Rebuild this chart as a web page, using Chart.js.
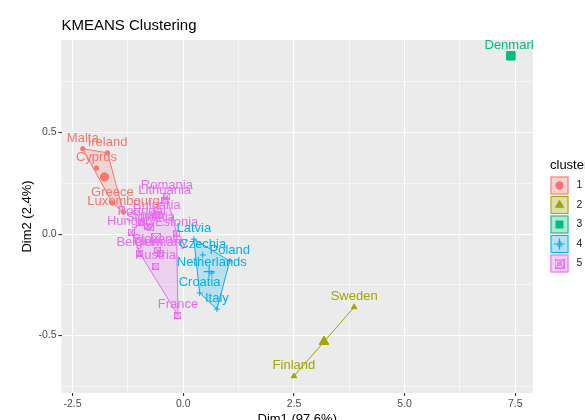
<!DOCTYPE html>
<html>
<head>
<meta charset="utf-8">
<script src="https://cdn.jsdelivr.net/npm/chart.js@4.4.1/dist/chart.umd.min.js"></script>
<style>
  html, body { margin: 0; padding: 0; background: #fff; }
</style>
</head>
<body>
<canvas id="kmeansChart" width="585" height="420"></canvas>
<script>
// countries with their PCA coordinates and kmeans cluster
const countries = ['Romania', 'Lithuania', 'Bulgaria', 'Portugal', 'Slovakia', 'Hungary', 'Estonia', 'Slovenia', 'Germany', 'Belgium', 'Austria', 'France', 'Spain',
  'Latvia', 'Czechia', 'Poland', 'Netherlands', 'Croatia', 'Italy',
  'Denmark',
  'Sweden', 'Finland',
  'Malta', 'Ireland', 'Cyprus', 'Greece', 'Luxembourg'];
const dim1 = [-0.37, -0.42, -0.60, -0.94, -0.74, -1.17, -0.15, -0.58, -0.51, -0.98, -0.62, -0.12, -0.80,
  0.24, 0.44, 1.05, 0.645, 0.37, 0.76,
  7.40,
  3.86, 2.50,
  -2.27, -1.71, -1.96, -1.60, -1.35];
const dim2 = [0.187, 0.163, 0.089, 0.059, 0.030, 0.010, 0.005, -0.079, -0.094, -0.094, -0.158, -0.40, 0.039,
  -0.025, -0.103, -0.133, -0.192, -0.29, -0.37,
  0.878,
  -0.36, -0.70,
  0.42, 0.40, 0.325, 0.153, 0.108];
const clusterOf = [5, 5, 5, 5, 5, 5, 5, 5, 5, 5, 5, 5, 5,
  4, 4, 4, 4, 4, 4,
  3,
  2, 2,
  1, 1, 1, 1, 1];

const clusterIds = [1, 2, 3, 4, 5];
const xTicks = [-2.5, 0, 2.5, 5, 7.5];
const xTickLabels = ['-2.5', '0.0', '2.5', '5.0', '7.5'];
const yTicks = [-0.5, 0, 0.5];
const yTickLabels = ['-0.5', '0.0', '0.5'];

const chartTitle = 'KMEANS Clustering';
const xTitle = 'Dim1 (97.6%)';
const yTitle = 'Dim2 (2.4%)';
const legendTitle = 'cluster';

const clusterColors = ['#F8766D', '#A3A500', '#00BF7D', '#00B0F6', '#E76BF3'];
const FONT = "'Liberation Sans', Arial, sans-serif";
Chart.defaults.font.family = FONT;

function rgba(hex, a) {
  const n = parseInt(hex.slice(1), 16);
  return `rgba(${(n >> 16) & 255}, ${(n >> 8) & 255}, ${n & 255}, ${a})`;
}

// square with an X in it (ggplot shape 7)
function boxX(size, color) {
  const c = document.createElement('canvas');
  c.width = size;
  c.height = size;
  const g = c.getContext('2d');
  g.strokeStyle = color;
  g.lineWidth = 1;
  g.strokeRect(0.5, 0.5, size - 1, size - 1);
  g.beginPath();
  g.moveTo(0.5, 0.5); g.lineTo(size - 0.5, size - 0.5);
  g.moveTo(size - 0.5, 0.5); g.lineTo(0.5, size - 0.5);
  g.stroke();
  return c;
}

function convexHull(pts) {
  const p = pts.slice().sort((a, b) => a.x - b.x || a.y - b.y);
  if (p.length < 3) return p;
  const cross = (o, a, b) => (a.x - o.x) * (b.y - o.y) - (a.y - o.y) * (b.x - o.x);
  const lower = [];
  for (const q of p) {
    while (lower.length >= 2 && cross(lower[lower.length - 2], lower[lower.length - 1], q) <= 0) lower.pop();
    lower.push(q);
  }
  const upper = [];
  for (let i = p.length - 1; i >= 0; i--) {
    const q = p[i];
    while (upper.length >= 2 && cross(upper[upper.length - 2], upper[upper.length - 1], q) <= 0) upper.pop();
    upper.push(q);
  }
  upper.pop();
  lower.pop();
  const h = lower.concat(upper);
  h.push(h[0]);
  return h;
}

function pointStyleFor(k, big) {
  const col = clusterColors[k - 1];
  switch (k) {
    case 1: return { pointStyle: 'circle', radius: big ? 4.2 : 2.2 };
    case 2: return { pointStyle: 'triangle', radius: big ? 5.6 : 3.2 };
    case 3: return { pointStyle: 'rect', radius: big ? 6 : 3.5 };
    case 4: return { pointStyle: 'cross', radius: big ? 5.5 : 3 };
    default: return { pointStyle: boxX(big ? 10 : 7, col), radius: big ? 5 : 3.5 };
  }
}

const datasets = [];
clusterIds.forEach(k => {
  const col = clusterColors[k - 1];
  const pts = [];
  countries.forEach((name, i) => {
    if (clusterOf[i] === k) pts.push({ x: dim1[i], y: dim2[i] });
  });
  const cx = pts.reduce((a, p) => a + p.x, 0) / pts.length;
  const cy = pts.reduce((a, p) => a + p.y, 0) / pts.length;

  const small = pointStyleFor(k, false);
  const big = pointStyleFor(k, true);

  // member points
  datasets.push({
    data: pts,
    order: 2,
    pointStyle: small.pointStyle,
    pointRadius: small.radius,
    backgroundColor: col,
    borderColor: col,
    pointBorderWidth: 1,
    showLine: false
  });
  // cluster centre
  datasets.push({
    data: [{ x: cx, y: cy }],
    order: 1,
    pointStyle: big.pointStyle,
    pointRadius: big.radius,
    backgroundColor: col,
    borderColor: col,
    pointBorderWidth: k === 4 ? 1.2 : 1,
    showLine: false
  });
  // convex hull frame
  if (pts.length > 1) {
    datasets.push({
      data: convexHull(pts),
      order: 3,
      showLine: true,
      pointRadius: 0,
      borderColor: col,
      borderWidth: 1,
      backgroundColor: rgba(col, 0.2),
      fill: pts.length > 2 ? 'shape' : false,
      tension: 0
    });
  }
});

const panelPlugin = {
  id: 'panel',
  beforeDraw(chart) {
    const { ctx, chartArea: a } = chart;
    ctx.save();
    ctx.fillStyle = '#FFFFFF';
    ctx.fillRect(0, 0, chart.width, chart.height);
    ctx.fillStyle = '#EBEBEB';
    ctx.fillRect(a.left, a.top, a.right - a.left, a.bottom - a.top);
    ctx.restore();
  }
};

const textPlugin = {
  id: 'texts',
  afterDatasetsDraw(chart) {
    const { ctx, chartArea: a } = chart;
    const xs = chart.scales.x, ys = chart.scales.y;
    ctx.save();
    ctx.beginPath();
    ctx.rect(a.left, a.top, a.right - a.left, a.bottom - a.top);
    ctx.clip();
    ctx.font = `13px ${FONT}`;
    ctx.textAlign = 'center';
    ctx.textBaseline = 'middle';
    countries.forEach((name, i) => {
      ctx.fillStyle = clusterColors[clusterOf[i] - 1];
      ctx.fillText(name, xs.getPixelForValue(dim1[i]), ys.getPixelForValue(dim2[i]) - 10.5);
    });
    ctx.restore();
  },
  afterDraw(chart) {
    const { ctx, chartArea: a } = chart;
    ctx.save();
    // title
    ctx.fillStyle = '#000000';
    ctx.font = `15px ${FONT}`;
    ctx.textAlign = 'left';
    ctx.textBaseline = 'alphabetic';
    ctx.fillText(chartTitle, a.left, 29.5);
    // axis titles
    ctx.font = `13px ${FONT}`;
    ctx.textAlign = 'center';
    ctx.fillText(xTitle, (a.left + a.right) / 2, 422.5);
    ctx.save();
    ctx.translate(31, (a.top + a.bottom) / 2);
    ctx.rotate(-Math.PI / 2);
    ctx.fillText(yTitle, 0, 0);
    ctx.restore();

    // legend
    const lx = 550.5, ly = 176.5, key = 18, step = 19.5;
    ctx.textAlign = 'left';
    ctx.textBaseline = 'middle';
    ctx.font = `13px ${FONT}`;
    ctx.fillText(legendTitle, 550, 165);
    clusterIds.forEach((k, i) => {
      const col = clusterColors[k - 1];
      const y0 = ly + i * step;
      ctx.fillStyle = '#F2F2F2';
      ctx.fillRect(lx, y0, key, key);
      ctx.fillStyle = rgba(col, 0.25);
      ctx.fillRect(lx, y0, key, key);
      ctx.strokeStyle = col;
      ctx.lineWidth = 1;
      ctx.strokeRect(lx + 0.5, y0 + 0.5, key - 1, key - 1);
      const cx = lx + key / 2, cy = y0 + key / 2;
      ctx.fillStyle = col;
      ctx.font = `10px ${FONT}`;
      ctx.textAlign = 'center';
      ctx.fillText('a', cx, cy);
      const st = pointStyleFor(k, true);
      ctx.fillStyle = col;
      ctx.strokeStyle = col;
      ctx.beginPath();
      if (k === 1) {
        ctx.arc(cx, cy, 4.2, 0, Math.PI * 2);
        ctx.fill();
      } else if (k === 2) {
        const r = 5.6;
        ctx.moveTo(cx, cy - r);
        ctx.lineTo(cx + r * 0.866, cy + r * 0.5);
        ctx.lineTo(cx - r * 0.866, cy + r * 0.5);
        ctx.closePath();
        ctx.fill();
      } else if (k === 3) {
        ctx.rect(cx - 4, cy - 4, 8, 8);
        ctx.fill();
      } else if (k === 4) {
        ctx.lineWidth = 1.2;
        ctx.moveTo(cx - 5.5, cy); ctx.lineTo(cx + 5.5, cy);
        ctx.moveTo(cx, cy - 5.5); ctx.lineTo(cx, cy + 5.5);
        ctx.stroke();
      } else {
        ctx.drawImage(st.pointStyle, cx - 5, cy - 5, 10, 10);
      }
      ctx.fillStyle = '#1A1A1A';
      ctx.font = `10.5px ${FONT}`;
      ctx.textAlign = 'left';
      ctx.fillText(String(k), 576.5, cy);
    });
    ctx.restore();
  }
};

function isMajor(list, v) {
  return list.some(t => Math.abs(t - v) < 1e-9);
}
function tickText(list, labels, v) {
  const i = list.findIndex(t => Math.abs(t - v) < 1e-9);
  return i >= 0 ? labels[i] : '';
}
// minor grid sits halfway between major ticks
function withMinor(list, lo, hi) {
  const step = list[1] - list[0];
  const out = [];
  for (let v = list[0] - step / 2; v <= hi; v += step / 2) {
    if (v >= lo) out.push(Math.round(v * 1000) / 1000);
  }
  return out;
}

const xMin = -2.75, xMax = 7.9, yMin = -0.783, yMax = 0.956;

new Chart(document.getElementById('kmeansChart'), {
  type: 'scatter',
  data: { datasets },
  options: {
    responsive: false,
    animation: false,
    layout: { padding: { left: 0, top: 40, right: 52, bottom: 0 } },
    plugins: {
      legend: { display: false },
      tooltip: { enabled: false },
      title: { display: false }
    },
    scales: {
      x: {
        type: 'linear',
        min: xMin,
        max: xMax,
        afterFit(scale) { scale.height = 27; },
        afterBuildTicks(scale) { scale.ticks = withMinor(xTicks, xMin, xMax).map(v => ({ value: v })); },
        ticks: {
          autoSkip: false,
          maxRotation: 0,
          padding: 2,
          color: '#4D4D4D',
          font: { size: 10.5 },
          callback: v => tickText(xTicks, xTickLabels, v)
        },
        grid: {
          color: '#FFFFFF',
          lineWidth: c => isMajor(xTicks, c.tick.value) ? 1.1 : 0.55,
          tickLength: 3,
          tickColor: c => isMajor(xTicks, c.tick.value) ? '#333333' : 'rgba(0,0,0,0)'
        },
        border: { display: false }
      },
      y: {
        type: 'linear',
        min: yMin,
        max: yMax,
        afterFit(scale) { scale.width = 61.5; },
        afterBuildTicks(scale) { scale.ticks = withMinor(yTicks, yMin, yMax).map(v => ({ value: v })); },
        ticks: {
          autoSkip: false,
          padding: 2,
          color: '#4D4D4D',
          font: { size: 10.5 },
          callback: v => tickText(yTicks, yTickLabels, v)
        },
        grid: {
          color: '#FFFFFF',
          lineWidth: c => isMajor(yTicks, c.tick.value) ? 1.1 : 0.55,
          tickLength: 3,
          tickColor: c => isMajor(yTicks, c.tick.value) ? '#333333' : 'rgba(0,0,0,0)'
        },
        border: { display: false }
      }
    }
  },
  plugins: [panelPlugin, textPlugin]
});
</script>
</body>
</html>
